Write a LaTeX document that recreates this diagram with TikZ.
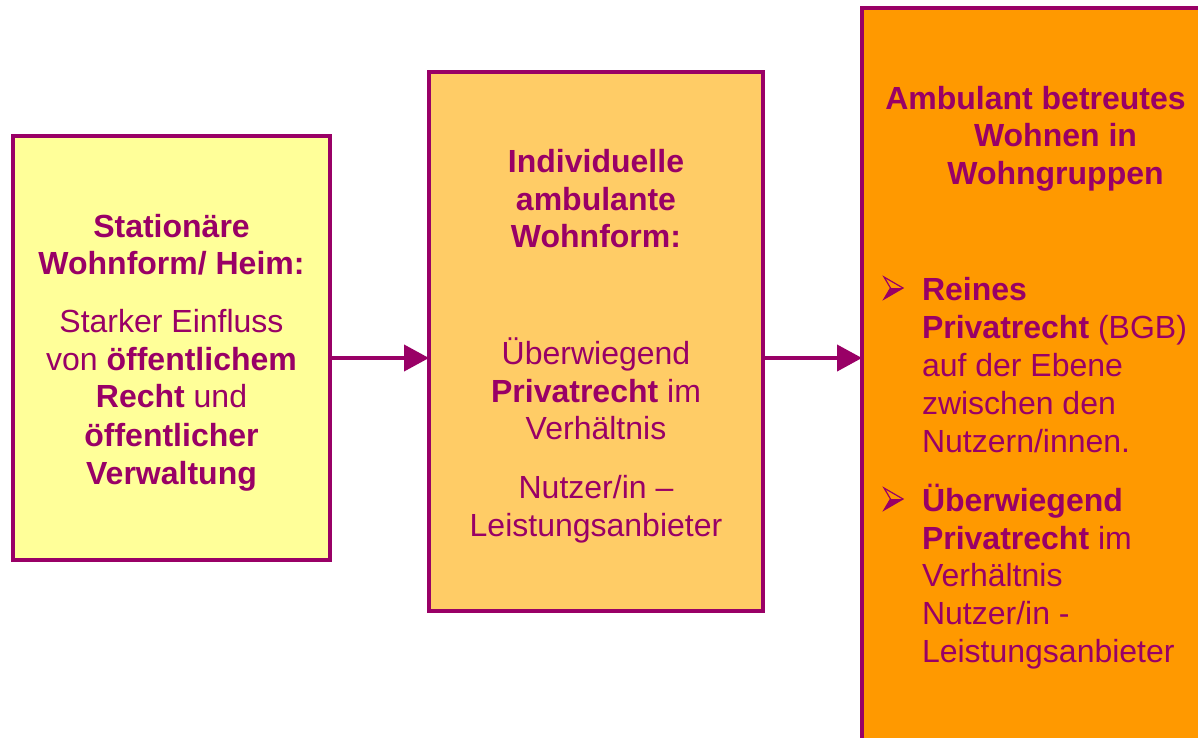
\documentclass[tikz,border=0pt]{standalone}
\usepackage{fontspec}
\setmainfont{Liberation Sans}
\usetikzlibrary{arrows.meta}
\definecolor{purp}{HTML}{990066}
\definecolor{fillA}{HTML}{FFFF99}
\definecolor{fillB}{HTML}{FFCC66}
\definecolor{fillC}{HTML}{FF9900}
\tikzset{
  boxstyle/.style={draw=purp, line width=4pt, inner sep=0pt, outer sep=0pt, rectangle},
  txt/.style={anchor=base, inner sep=0pt, outer sep=0pt, text=purp, font=\fontsize{32}{38}\selectfont},
  ltxt/.style={txt, anchor=base west},
  arr/.style={draw=purp, line width=4pt, -{Triangle[length=25pt,width=26pt]}},
  arrowbul/.pic={
    \draw[purp, line width=1.2pt, line join=miter] (0,0) -- (19,11) -- (0,22) -- (6.5,11) -- cycle;
    \fill[purp] (6.5,11) -- (19,11) -- (0,22) -- cycle;
  }
}
\begin{document}
\begin{tikzpicture}[x=1pt,y=-1pt]
\clip (0,0) rectangle (1198,737);
\fill[white] (0,0) rectangle (1198,737);
% boxes
\node[boxstyle, fill=fillA, minimum width=317pt, minimum height=424pt] (b1) at (171.5,348) {};
\node[boxstyle, fill=fillB, minimum width=334pt, minimum height=539pt] (b2) at (596,341.5) {};
\node[boxstyle, fill=fillC, minimum width=368pt, minimum height=762pt] (b3) at (1046,389) {};
\coordinate (ay) at (0,358);
\draw[arr] (b1.east |- ay) -- (b2.west |- ay);
\draw[arr] (b2.east |- ay) -- (b3.west |- ay);
% box 1 text
\node[txt] (t11) at (171.5,237) {\textbf{Stationäre}};
\node[txt] (t12) at (171.5,274.5) {\textbf{Wohnform/ Heim:}};
\node[txt] (t13) at (171.5,332) {Starker Einfluss};
\node[txt] (t14) at (171.5,370) {von \textbf{öffentlichem}};
\node[txt] (t15) at (171.5,407.5) {\textbf{Recht} und};
\node[txt] (t16) at (171.5,446) {\textbf{öffentlicher}};
\node[txt] (t17) at (171.5,484) {\textbf{Verwaltung}};
% box 2 text
\node[txt] (t21) at (596,172.5) {\textbf{Individuelle}};
\node[txt] (t22) at (596,210) {\textbf{ambulante}};
\node[txt] (t23) at (596,247.5) {\textbf{Wohnform:}};
\node[txt] (t24) at (596,364) {Überwiegend};
\node[txt] (t25) at (596,402) {\textbf{Privatrecht} im};
\node[txt] (t26) at (596,439.5) {Verhältnis};
\node[txt] (t27) at (596,498) {Nutzer/in –};
\node[txt] (t28) at (596,536) {Leistungsanbieter};
% box 3 text
\node[txt] (t31) at (1035.5,109) {\textbf{Ambulant betreutes}};
\node[txt] (t32) at (1055.5,146.5) {\textbf{Wohnen in}};
\node[txt] (t33) at (1055.5,184) {\textbf{Wohngruppen}};
\pic at (884,277) {arrowbul};
\node[ltxt] (t34) at (922,300) {\textbf{Reines}};
\node[ltxt] (t35) at (922,338) {\textbf{Privatrecht} (BGB)};
\node[ltxt] (t36) at (922,376) {auf der Ebene};
\node[ltxt] (t37) at (922,414.5) {zwischen den};
\node[ltxt] (t38) at (922,452.5) {Nutzern/innen.};
\pic at (884,488) {arrowbul};
\node[ltxt] (t39) at (922,511) {\textbf{Überwiegend}};
\node[ltxt] (t40) at (922,549) {\textbf{Privatrecht} im};
\node[ltxt] (t41) at (922,586.5) {Verhältnis};
\node[ltxt] (t42) at (922,624.5) {Nutzer/in -};
\node[ltxt] (t43) at (922,662.5) {Leistungsanbieter};
\end{tikzpicture}
\end{document}
